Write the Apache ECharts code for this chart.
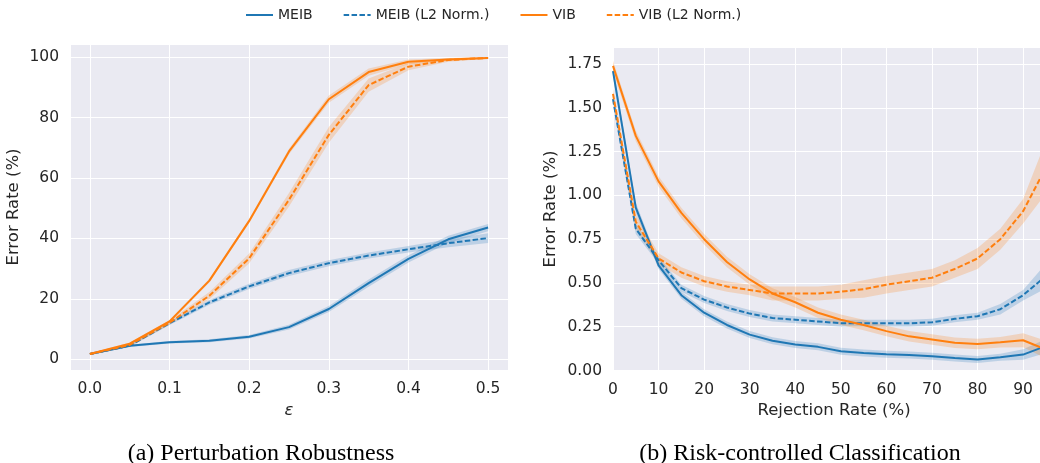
<!DOCTYPE html>
<html>
<head>
<meta charset="utf-8">
<script src="https://cdn.jsdelivr.net/npm/echarts@6/dist/echarts.min.js"></script>
<style>
  html, body { margin: 0; padding: 0; background: #fff; }
  #main { width: 1040px; height: 463px; }
</style>
</head>
<body>
<div id="main"></div>
<script>
// (a) perturbation robustness, x = epsilon
var epsX = [0, 0.05, 0.1, 0.15, 0.2, 0.25, 0.3, 0.35, 0.4, 0.45, 0.5];
var meibRob   = [1.7, 4.4, 5.6, 6.1, 7.4, 10.6, 16.6, 25.2, 33.2, 39.7, 43.6];
var meibL2Rob = [1.7, 4.5, 11.9, 18.8, 24.1, 28.5, 31.8, 34.3, 36.4, 38.4, 40.1];
var vibRob    = [1.7, 5.1, 12.5, 26.0, 45.8, 68.8, 86.1, 95.1, 98.5, 99.3, 99.8];
var vibL2Rob  = [1.7, 4.7, 12.1, 21.0, 33.4, 52.8, 74.3, 90.8, 96.9, 99.1, 99.8];
// half width of the shaded bands
var meibRobErr   = [0.3, 0.4, 0.4, 0.5, 0.6, 0.8, 1.0, 1.2, 1.2, 1.2, 1.2];
var meibL2RobErr = [0.3, 0.4, 0.6, 0.8, 0.9, 1.0, 1.0, 1.0, 1.1, 1.3, 1.6];
var vibRobErr    = [0.3, 0.4, 0.5, 0.6, 0.7, 0.9, 1.2, 1.2, 0.8, 0.5, 0.3];
var vibL2RobErr  = [0.3, 0.5, 0.7, 1.2, 1.6, 2.2, 2.6, 2.2, 1.2, 0.6, 0.3];

// (b) risk-controlled classification, x = rejection rate (%)
var rejX = [0, 5, 10, 15, 20, 25, 30, 35, 40, 45, 50, 55, 60, 65, 70, 75, 80, 85, 90, 95];
var meibRisk   = [1.71, 0.93, 0.60, 0.43, 0.33, 0.26, 0.205, 0.17, 0.148, 0.135, 0.11, 0.10, 0.093, 0.089, 0.082, 0.072, 0.063, 0.076, 0.091, 0.14];
var meibL2Risk = [1.55, 0.81, 0.63, 0.47, 0.405, 0.36, 0.325, 0.30, 0.29, 0.28, 0.27, 0.27, 0.27, 0.27, 0.275, 0.295, 0.31, 0.35, 0.43, 0.54];
var vibRisk    = [1.74, 1.34, 1.08, 0.90, 0.75, 0.62, 0.52, 0.44, 0.39, 0.33, 0.29, 0.26, 0.225, 0.195, 0.177, 0.158, 0.152, 0.162, 0.173, 0.12];
var vibL2Risk  = [1.58, 0.85, 0.64, 0.56, 0.51, 0.48, 0.46, 0.44, 0.44, 0.44, 0.45, 0.465, 0.49, 0.51, 0.53, 0.58, 0.64, 0.75, 0.91, 1.16];
var meibRiskErr   = [0.03, 0.03, 0.02, 0.02, 0.02, 0.02, 0.02, 0.02, 0.02, 0.02, 0.02, 0.02, 0.02, 0.02, 0.02, 0.02, 0.02, 0.02, 0.03, 0.04];
var meibL2RiskErr = [0.03, 0.03, 0.02, 0.02, 0.02, 0.02, 0.02, 0.02, 0.02, 0.02, 0.02, 0.02, 0.02, 0.02, 0.02, 0.02, 0.02, 0.03, 0.03, 0.07];
var vibRiskErr    = [0.03, 0.03, 0.03, 0.03, 0.03, 0.03, 0.03, 0.03, 0.03, 0.03, 0.03, 0.03, 0.03, 0.03, 0.03, 0.03, 0.03, 0.03, 0.04, 0.05];
var vibL2RiskErr  = [0.03, 0.04, 0.03, 0.03, 0.03, 0.03, 0.03, 0.04, 0.04, 0.04, 0.04, 0.05, 0.05, 0.05, 0.05, 0.05, 0.06, 0.06, 0.07, 0.15];

var names = ['MEIB', 'MEIB (L2 Norm.)', 'VIB', 'VIB (L2 Norm.)'];
var blue = '#1f77b4', orange = '#ff7f0e';
var dash = [5.5, 2.4];
var txt = '#262626';
var bg = '#EAEAF2';

function band(xs, ys, err, color, idx) {
  var pts = xs.map(function (x, i) { return [x, ys[i] - err[i], ys[i] + err[i]]; });
  return {
    type: 'custom',
    xAxisIndex: idx, yAxisIndex: idx,
    silent: true,
    z: 1,
    data: pts,
    encode: { x: 0, y: [1, 2] },
    renderItem: function (params, api) {
      if (params.dataIndex !== 0) return;
      var poly = [];
      for (var i = 0; i < pts.length; i++) poly.push(api.coord([pts[i][0], pts[i][2]]));
      for (var j = pts.length - 1; j >= 0; j--) poly.push(api.coord([pts[j][0], pts[j][1]]));
      return { type: 'polygon', shape: { points: poly }, style: { fill: color, opacity: 0.22 } };
    }
  };
}

function line(name, xs, ys, color, dashed, idx) {
  return {
    name: name,
    type: 'line',
    xAxisIndex: idx, yAxisIndex: idx,
    data: xs.map(function (x, i) { return [x, ys[i]]; }),
    symbol: 'none',
    z: 3,
    clip: false,
    lineStyle: { color: color, width: 2, type: dashed ? dash : 'solid' },
    itemStyle: { color: color }
  };
}

var tickLbl = { color: txt, fontSize: 15.5, fontFamily: 'DejaVu Sans' };
var nameLbl = { color: txt, fontSize: 16.5, fontFamily: 'DejaVu Sans' };
var capStyle = { fontFamily: 'Liberation Serif', fontWeight: 'normal', fontSize: 24, color: '#000' };

var chart = echarts.init(document.getElementById('main'), null, { renderer: 'canvas' });
chart.setOption({
  backgroundColor: '#fff',
  animation: false,
  legend: {
    data: names,
    left: 240, top: 3,
    itemWidth: 27, itemHeight: 14, itemGap: 30,
    itemStyle: { opacity: 0, borderWidth: 0 },
    textStyle: { color: txt, fontSize: 14, fontFamily: 'DejaVu Sans' }
  },
  title: [
    { text: '(a) Perturbation Robustness', left: 256, top: 437, textAlign: 'center', textStyle: capStyle },
    { text: '(b) Risk-controlled Classification', left: 795, top: 437, textAlign: 'center', textStyle: capStyle }
  ],
  grid: [
    { left: 70, top: 44, width: 438, height: 326, show: true, backgroundColor: bg, borderWidth: 0,
      outerBoundsMode: 'none' },
    { left: 613, top: 47.5, width: 442, height: 323, show: true, backgroundColor: bg, borderWidth: 0,
      outerBoundsMode: 'none' }
  ],
  xAxis: [
    { type: 'value', gridIndex: 0, min: -0.025, max: 0.525, splitNumber: 5,
      name: 'ε', nameLocation: 'middle', nameGap: 30,
      nameTextStyle: Object.assign({ fontStyle: 'italic' }, nameLbl),
      axisLine: { show: false }, axisTick: { show: false },
      axisLabel: Object.assign({ margin: 11, showMinLabel: false, showMaxLabel: false,
        formatter: function (v) { return v.toFixed(1); } }, tickLbl),
      splitLine: { lineStyle: { color: '#fff', width: 1 } } },
    { type: 'value', gridIndex: 1, min: 0, max: 97, interval: 10,
      name: 'Rejection Rate (%)', nameLocation: 'middle', nameGap: 30, nameTextStyle: nameLbl,
      axisLine: { show: false }, axisTick: { show: false },
      axisLabel: Object.assign({ margin: 11, showMaxLabel: false }, tickLbl),
      splitLine: { lineStyle: { color: '#fff', width: 1 } } }
  ],
  yAxis: [
    { type: 'value', gridIndex: 0, min: -3.6, max: 104.4, splitNumber: 5,
      name: 'Error Rate (%)', nameLocation: 'middle', nameGap: 48, nameTextStyle: nameLbl,
      axisLine: { show: false }, axisTick: { show: false },
      axisLabel: Object.assign({ margin: 11, showMinLabel: false, showMaxLabel: false }, tickLbl),
      splitLine: { lineStyle: { color: '#fff', width: 1 } } },
    { type: 'value', gridIndex: 1, min: 0, max: 1.845, interval: 0.25,
      name: 'Error Rate (%)', nameLocation: 'middle', nameGap: 54, nameTextStyle: nameLbl,
      axisLine: { show: false }, axisTick: { show: false },
      axisLabel: Object.assign({ margin: 11, showMaxLabel: false,
        formatter: function (v) { return v.toFixed(2); } }, tickLbl),
      splitLine: { lineStyle: { color: '#fff', width: 1 } } }
  ],
  series: [
    band(epsX, meibRob, meibRobErr, blue, 0),
    band(epsX, meibL2Rob, meibL2RobErr, blue, 0),
    band(epsX, vibRob, vibRobErr, orange, 0),
    band(epsX, vibL2Rob, vibL2RobErr, orange, 0),
    band(rejX, meibRisk, meibRiskErr, blue, 1),
    band(rejX, meibL2Risk, meibL2RiskErr, blue, 1),
    band(rejX, vibRisk, vibRiskErr, orange, 1),
    band(rejX, vibL2Risk, vibL2RiskErr, orange, 1),
    line(names[0], epsX, meibRob, blue, false, 0),
    line(names[1], epsX, meibL2Rob, blue, true, 0),
    line(names[2], epsX, vibRob, orange, false, 0),
    line(names[3], epsX, vibL2Rob, orange, true, 0),
    line(names[0], rejX, meibRisk, blue, false, 1),
    line(names[1], rejX, meibL2Risk, blue, true, 1),
    line(names[2], rejX, vibRisk, orange, false, 1),
    line(names[3], rejX, vibL2Risk, orange, true, 1)
  ]
});
</script>
</body>
</html>
